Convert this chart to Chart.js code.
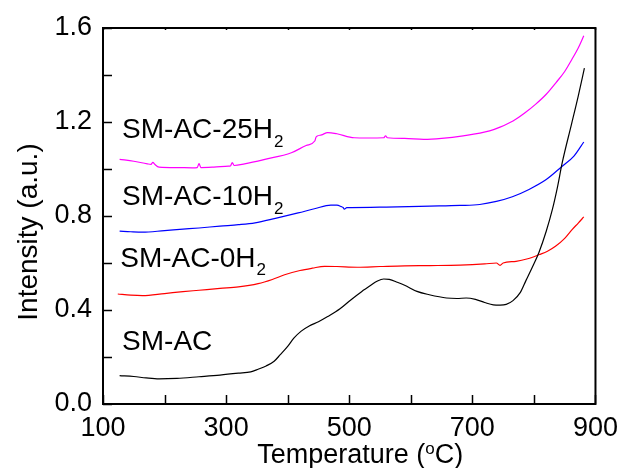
<!DOCTYPE html>
<html><head><meta charset="utf-8">
<script src="https://cdn.jsdelivr.net/npm/chart.js@4/dist/chart.umd.min.js"></script>
<style>html,body{margin:0;padding:0;background:#fff;}canvas{display:block;}</style>
</head><body>
<canvas id="c" width="626" height="468"></canvas>
<script>
// ---- data (temperature in °C, intensity in a.u.) ----
const seriesNames = ['SM-AC', 'SM-AC-0H2', 'SM-AC-10H2', 'SM-AC-25H2'];

const tempSMAC = [127,150,170,191,220,256,290,320,340,352,365,378,388,400,410,422,435,450,465,485,503,520,535,545,556,565,578,590,610,630,658,675,690,705,720,734,745,755,766,778,787,797,808,820,830,838,846,861,872,882];
const valSMAC  = [0.121,0.117,0.111,0.107,0.109,0.116,0.123,0.131,0.137,0.148,0.162,0.182,0.210,0.245,0.280,0.310,0.332,0.350,0.372,0.405,0.444,0.478,0.505,0.522,0.532,0.530,0.518,0.505,0.479,0.465,0.451,0.449,0.451,0.445,0.432,0.422,0.421,0.424,0.440,0.475,0.525,0.580,0.644,0.735,0.828,0.920,1.027,1.190,1.310,1.429];

const temp0H2 = [124,145,164,200,230,256,290,320,352,375,395,420,440,460,480,513,550,590,631,680,720,739,745,750,771,790,809,822,835,850,862,872,881];
const val0H2  = [0.468,0.463,0.461,0.470,0.478,0.484,0.492,0.498,0.512,0.530,0.550,0.568,0.578,0.586,0.585,0.582,0.585,0.588,0.589,0.591,0.596,0.600,0.590,0.600,0.607,0.618,0.636,0.650,0.671,0.705,0.742,0.770,0.796];

const temp10H2 = [127,145,164,200,230,256,290,320,347,380,417,445,470,480,487,490,492,496,503,560,631,680,712,739,765,792,820,846,865,881];
const val10H2  = [0.736,0.733,0.731,0.738,0.744,0.749,0.757,0.763,0.771,0.790,0.813,0.832,0.846,0.846,0.840,0.836,0.829,0.836,0.836,0.838,0.842,0.845,0.849,0.862,0.882,0.913,0.955,1.012,1.055,1.115];

const temp25H2 = [127,150,172,178,181,184,191,220,245,253,256,259,280,304,307,310,313,330,363,406,430,444,446,448,455,465,480,508,530,556,559,562,590,621,650,685,728,745,766,785,803,820,836,850,862,872,881];
const val25H2  = [1.041,1.033,1.022,1.020,1.028,1.020,1.008,1.006,1.005,1.006,1.023,1.006,1.008,1.012,1.013,1.027,1.015,1.022,1.041,1.069,1.100,1.119,1.135,1.140,1.145,1.155,1.150,1.133,1.132,1.133,1.141,1.133,1.130,1.126,1.130,1.141,1.162,1.178,1.204,1.238,1.276,1.318,1.368,1.415,1.468,1.515,1.567];

const xTickValues = [100, 300, 500, 700, 900];
const yTickValues = [0.0, 0.4, 0.8, 1.2, 1.6];

const FONT = '"Liberation Sans", Arial, Helvetica, sans-serif';

function pts(xs, ys){ return xs.map((x,i)=>({x:x, y:ys[i]})); }

const labelPlugin = {
  id: 'frameAndLabels',
  afterDraw(chart){
    const {ctx, chartArea:a, scales:{x, y}} = chart;
    ctx.save();
    // frame
    ctx.strokeStyle = '#000';
    ctx.lineWidth = 2;
    ctx.strokeRect(a.left, a.top, a.right - a.left, a.bottom - a.top);
    // inward ticks
    ctx.lineWidth = 1.5;
    ctx.beginPath();
    x.ticks.forEach(t => {
      const px = Math.round(x.getPixelForValue(t.value)) + 0.5;
      ctx.moveTo(px, a.bottom); ctx.lineTo(px, a.bottom - 9);
      ctx.moveTo(px, a.top); ctx.lineTo(px, a.top + 2);
    });
    y.ticks.forEach(t => {
      const py = Math.round(y.getPixelForValue(t.value)) + 0.5;
      ctx.moveTo(a.left, py); ctx.lineTo(a.left + 9, py);
    });
    ctx.stroke();

    ctx.fillStyle = '#000';
    ctx.textBaseline = 'alphabetic';
    ctx.textAlign = 'left';
    // series labels with subscript
    const labels = [
      {main:'SM-AC-25H', sub:'2', t:131, v:1.131},
      {main:'SM-AC-10H', sub:'2', t:131, v:0.846},
      {main:'SM-AC-0H',  sub:'2', t:128, v:0.583},
      {main:'SM-AC',     sub:'',  t:131, v:0.229}
    ];
    labels.forEach(l => {
      const px = x.getPixelForValue(l.t), py = y.getPixelForValue(l.v);
      ctx.font = '28px ' + FONT;
      ctx.fillText(l.main, px, py);
      if (l.sub){
        const w = ctx.measureText(l.main).width;
        ctx.font = '17px ' + FONT;
        ctx.fillText(l.sub, px + w + 1, py + 8.5);
      }
    });

    // x axis title: Temperature (°C) with superscript o
    const cx = (a.left + a.right) / 2 + 11;
    const base = a.bottom + 59;
    ctx.font = '27px ' + FONT;
    const p1 = 'Temperature (', p3 = 'C)';
    const w1 = ctx.measureText(p1).width, w3 = ctx.measureText(p3).width;
    ctx.font = '17px ' + FONT;
    const w2 = ctx.measureText('o').width;
    let sx = cx - (w1 + w2 + w3) / 2;
    ctx.font = '27px ' + FONT;
    ctx.fillText(p1, sx, base);
    ctx.font = '17px ' + FONT;
    ctx.fillText('o', sx + w1, base - 9);
    ctx.font = '27px ' + FONT;
    ctx.fillText(p3, sx + w1 + w2, base);

    // y axis title
    ctx.save();
    ctx.translate(37, (a.top + a.bottom) / 2 + 16);
    ctx.rotate(-Math.PI / 2);
    ctx.textAlign = 'center';
    ctx.font = '28px ' + FONT;
    ctx.fillText('Intensity (a.u.)', 0, 0);
    ctx.restore();

    ctx.restore();
  }
};

new Chart(document.getElementById('c'), {
  type: 'line',
  data: {
    datasets: [
      {label: seriesNames[0], data: pts(tempSMAC, valSMAC), borderColor: '#000000'},
      {label: seriesNames[1], data: pts(temp0H2, val0H2), borderColor: '#ff0000'},
      {label: seriesNames[2], data: pts(temp10H2, val10H2), borderColor: '#0000ff'},
      {label: seriesNames[3], data: pts(temp25H2, val25H2), borderColor: '#ff00ff'}
    ]
  },
  options: {
    responsive: false,
    animation: false,
    devicePixelRatio: 1,
    layout: {padding: {left: 0, right: 26, top: 28, bottom: 0}},
    plugins: {legend: {display: false}, tooltip: {enabled: false}},
    elements: {
      point: {radius: 0},
      line: {borderWidth: 1.2, cubicInterpolationMode: 'monotone', fill: false}
    },
    scales: {
      x: {
        type: 'linear', position: 'bottom', min: 100, max: 900,
        grid: {display: false, drawTicks: false},
        border: {display: false},
        ticks: {
          stepSize: 100, autoSkip: false, maxRotation: 0, padding: 8,
          color: '#000', font: {family: FONT, size: 27},
          callback: v => xTickValues.includes(v) ? String(v) : ''
        },
        afterFit: s => { s.height = 64; }
      },
      y: {
        type: 'linear', min: 0, max: 1.6,
        grid: {display: false, drawTicks: false},
        border: {display: false},
        ticks: {
          stepSize: 0.2, autoSkip: false, padding: 11,
          color: '#000', font: {family: FONT, size: 27},
          callback: v => yTickValues.some(t => Math.abs(t - v) < 1e-6) ? v.toFixed(1) : ''
        },
        afterFit: s => { s.width = 103; }
      }
    }
  },
  plugins: [labelPlugin]
});
</script>
</body></html>
